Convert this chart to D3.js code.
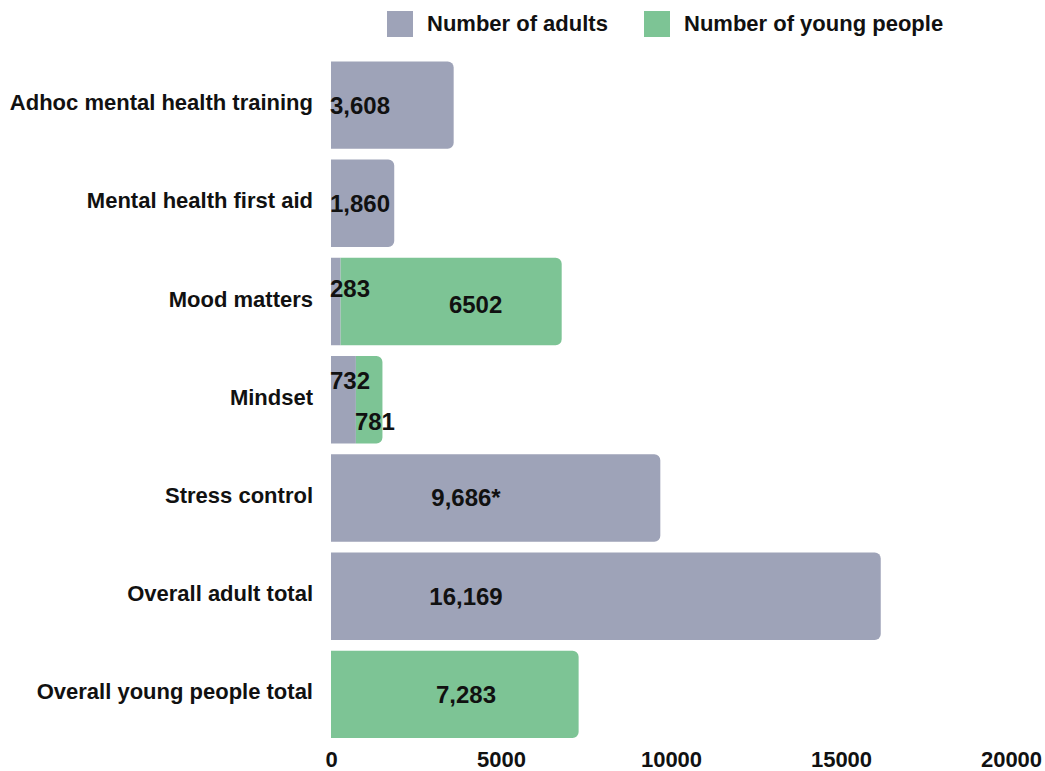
<!DOCTYPE html>
<html>
<head>
<meta charset="utf-8">
<script src="https://cdn.jsdelivr.net/npm/d3@7"></script>
<style>
  html, body { margin: 0; padding: 0; background: #fff; }
  svg { display: block; font-family: "Liberation Sans", Arial, Helvetica, sans-serif; }
</style>
</head>
<body>
<svg id="chart" width="1045" height="771"></svg>
<script>
// Programme names (rows, top to bottom)
const categories = [
  "Adhoc mental health training",
  "Mental health first aid",
  "Mood matters",
  "Mindset",
  "Stress control",
  "Overall adult total",
  "Overall young people total"
];
// Participants per programme
const adults      = [3608, 1860, 283, 732, 9686, 16169, 0];
const youngPeople = [0, 0, 6502, 781, 0, 0, 7283];
// Labels printed on the segments
const adultLabels = ["3,608", "1,860", "283", "732", "9,686*", "16,169", ""];
const youngLabels = ["", "", "6502", "781", "", "", "7,283"];
const seriesNames = ["Number of adults", "Number of young people"];
const xTicks = [0, 5000, 10000, 15000, 20000];

const colors = ["#9ea3b8", "#7dc495"];

const svg = d3.select("#chart");

const x = d3.scaleLinear().domain([0, 20000]).range([331, 1011]);
const y = d3.scaleBand().domain(categories).range([56, 743.5])
  .paddingInner(0.11).paddingOuter(0.055);

// bar path with rounded right end only
function barPath(x0, x1, y0, h, r) {
  const w = x1 - x0;
  r = Math.min(r, w / 2, h / 2);
  return `M${x0},${y0}H${x1 - r}A${r},${r} 0 0 1 ${x1},${y0 + r}` +
         `V${y0 + h - r}A${r},${r} 0 0 1 ${x1 - r},${y0 + h}H${x0}Z`;
}

const rows = categories.map((c, i) => ({
  cat: c, a: adults[i], yp: youngPeople[i], al: adultLabels[i], yl: youngLabels[i]
}));

const g = svg.append("g");

rows.forEach(d => {
  const top = y(d.cat), h = y.bandwidth();
  if (d.a > 0) {
    const path = d.yp > 0
      ? `M${x(0)},${top}H${x(d.a)}V${top + h}H${x(0)}Z`
      : barPath(x(0), x(d.a), top, h, 6);
    g.append("path").attr("d", path).attr("fill", colors[0]);
  }
  if (d.yp > 0) {
    g.append("path").attr("d", barPath(x(d.a), x(d.a + d.yp), top, h, 6))
      .attr("fill", colors[1]);
  }
});

// value labels
function placeLabel(text, start, end, cy) {
  const w = x(end) - x(start);
  const narrow = w < 140;
  g.append("text")
    .attr("x", narrow ? x(start) - 1 : x(start) + 135)
    .attr("y", cy)
    .attr("dy", "0.35em")
    .attr("text-anchor", narrow ? "start" : "middle")
    .attr("font-size", 24)
    .attr("font-weight", "bold")
    .attr("fill", "#111")
    .text(text);
}

rows.forEach(d => {
  const cy = y(d.cat) + y.bandwidth() / 2;
  const both = d.a > 0 && d.yp > 0;
  if (d.a > 0) {
    const dy = both ? (x(d.a + d.yp) - x(d.a) < 140 ? -19 : -13) : 0;
    placeLabel(d.al, 0, d.a, cy + dy);
  }
  if (d.yp > 0) {
    const narrow = x(d.a + d.yp) - x(d.a) < 140;
    const dy = both ? (narrow ? 22 : 3) : 0;
    placeLabel(d.yl, d.a, d.a + d.yp, cy + dy);
  }
});

// category axis
const yAxis = svg.append("g")
  .attr("transform", `translate(${x(0)},-2)`)
  .call(d3.axisLeft(y).tickSize(0).tickPadding(18));
yAxis.select(".domain").remove();
yAxis.selectAll("text")
  .attr("font-size", 22).attr("font-weight", "bold").attr("fill", "#111")
  .style("font-family", "'Liberation Sans', Arial, sans-serif");

// value axis
const xAxis = svg.append("g")
  .attr("transform", `translate(0,745)`)
  .call(d3.axisBottom(x).tickValues(xTicks).tickFormat(d3.format("d")).tickSize(0).tickPadding(6));
xAxis.select(".domain").remove();
xAxis.selectAll("text")
  .attr("font-size", 22).attr("font-weight", "bold").attr("fill", "#111")
  .style("font-family", "'Liberation Sans', Arial, sans-serif");

// legend
const legendX = [387, 644];
seriesNames.forEach((name, i) => {
  const lg = svg.append("g").attr("transform", `translate(${legendX[i]},11)`);
  lg.append("rect").attr("width", 26).attr("height", 26).attr("fill", colors[i]);
  lg.append("text").attr("x", 40).attr("y", 12).attr("dy", "0.35em")
    .attr("font-size", 22).attr("font-weight", "bold").attr("fill", "#111")
    .text(name);
});
</script>
</body>
</html>
